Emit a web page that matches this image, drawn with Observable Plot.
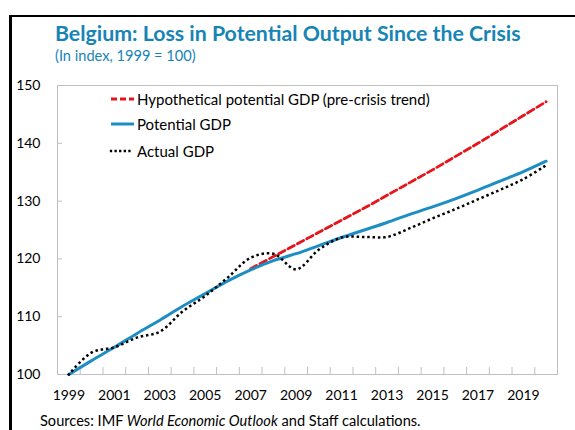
<!DOCTYPE html>
<html>
<head>
<meta charset="utf-8">
<script src="https://cdn.jsdelivr.net/npm/d3@7"></script>
<script src="https://cdn.jsdelivr.net/npm/@observablehq/plot@0.6"></script>
<style>
  html, body { margin: 0; padding: 0; background: #fff; }
  #wrap { position: relative; width: 575px; height: 430px; overflow: hidden; font-family: Lato, "Open Sans", sans-serif; }
  #borderTop { position: absolute; left: 9px; top: 15px; width: 570px; height: 2px; background: #000; }
  #borderLeft { position: absolute; left: 9px; top: 15px; width: 2.5px; height: 420px; background: #000; }
  #title { position: absolute; left: 55px; top: 21px; font-size: 21.3px; font-weight: 700; color: #1784b6; white-space: nowrap; line-height: 24px; }
  #subtitle { position: absolute; left: 55px; top: 47px; font-size: 14.6px; color: #1784b6; white-space: nowrap; line-height: 18px; }
  #chart { position: absolute; left: 0; top: 70px; }
  #legend { position: absolute; left: 109px; top: 89px; font-size: 15px; color: #000; }
  .row { position: absolute; left: 0; height: 20px; white-space: nowrap; display: flex; align-items: center; }
  .row svg { margin-right: 2px; }
  #caption { position: absolute; left: 40px; top: 413px; font-size: 14.6px; color: #000; white-space: nowrap; line-height: 16px; }
</style>
</head>
<body>
<div id="wrap">
  <div id="borderTop"></div>
  <div id="borderLeft"></div>
  <div id="title">Belgium: Loss in Potential Output Since the Crisis</div>
  <div id="subtitle">(In index, 1999 = 100)</div>
  <div id="chart"></div>
  <div id="legend"></div>
  <div id="caption">Sources: IMF <i>World Economic Outlook</i> and Staff calculations.</div>
</div>
<script>
// ---- data ----
const years = [1999, 2000, 2001, 2002, 2003, 2004, 2005, 2006, 2007, 2008, 2009, 2010,
               2011, 2012, 2013, 2014, 2015, 2016, 2017, 2018, 2019, 2020];
const potentialGDP = [100, 102.4, 104.7, 107.1, 109.4, 111.8, 114.0, 116.2, 118.1, 119.7, 120.9, 122.3,
                      123.7, 125.0, 126.3, 127.7, 129.0, 130.4, 131.9, 133.5, 135.1, 136.9];
const actualGDP = [100, 103.8, 104.7, 106.4, 107.4, 110.9, 113.6, 116.8, 120.2, 120.9, 118.2, 121.6,
                   123.7, 123.8, 123.8, 125.3, 127.0, 128.6, 130.3, 132.0, 133.8, 136.2];
const hypoYears = [2007, 2008, 2009, 2010, 2011, 2012, 2013, 2014, 2015, 2016, 2017, 2018, 2019, 2020];
const hypoGDP = [118.3, 120.4, 122.5, 124.6, 126.7, 128.8, 131.0, 133.2, 135.4, 137.7, 140.0, 142.4, 144.8, 147.2];
const xTickLabels = [1999, 2001, 2003, 2005, 2007, 2009, 2011, 2013, 2015, 2017, 2019];
const yTicks = [100, 110, 120, 130, 140, 150];
const seriesNames = ["Hypothetical potential GDP (pre-crisis trend)", "Potential GDP", "Actual GDP"];

// ---- styles ----
const RED = "#e8141c", BLUE = "#1c8ec3", GRID = "#c0c0c0";
const redDash = "7,3.6", dotDash = "0.01,5.3";

const potential = years.map((y, i) => ({year: y, value: potentialGDP[i]}));
const actual = years.map((y, i) => ({year: y, value: actualGDP[i]}));
const hypo = hypoYears.map((y, i) => ({year: y, value: hypoGDP[i]}));
// category boundaries between years
const boundaries = years.slice(0, -1).map(y => y + 0.5);

const W = 575, H = 345, mL = 57, mR = 18, mT = 15, mB = 41;
const innerW = W - mL - mR, innerH = H - mT - mB;

const chart = Plot.plot({
  width: W, height: H,
  marginLeft: mL, marginRight: mR, marginTop: mT, marginBottom: mB,
  style: "font-family: Lato, sans-serif; font-size: 14px; color: #000; background: transparent; overflow: visible;",
  x: {domain: [years[0] - 0.5, years[years.length - 1] + 0.5], label: null},
  y: {domain: [yTicks[0], yTicks[yTicks.length - 1]], label: null},
  marks: [
    Plot.frame({stroke: GRID, strokeWidth: 1}),
    Plot.tickX(boundaries, {x: d => d, stroke: GRID, insetTop: innerH - 7}),
    Plot.tickY(yTicks, {y: d => d, stroke: GRID, insetRight: innerW - 5}),
    Plot.axisX({ticks: xTickLabels, tickSize: 0, tickPadding: 16, tickFormat: d => String(d), label: null, fill: "#000"}),
    Plot.axisY({ticks: yTicks, tickSize: 0, tickPadding: 17, label: null, fill: "#000"}),
    Plot.line(hypo, {x: "year", y: "value", stroke: RED, strokeWidth: 2.8, strokeDasharray: redDash, curve: "catmull-rom"}),
    Plot.line(potential, {x: "year", y: "value", stroke: BLUE, strokeWidth: 3, curve: "catmull-rom"}),
    Plot.line(actual, {x: "year", y: "value", stroke: "#000", strokeWidth: 2.5, strokeLinecap: "square", strokeDasharray: dotDash, curve: "catmull-rom"})
  ]
});
document.getElementById("chart").appendChild(chart);

// ---- legend ----
const legendDefs = [
  {name: seriesNames[0], stroke: RED, dash: "6,3", width: 2.8, cap: "butt"},
  {name: seriesNames[1], stroke: BLUE, dash: null, width: 3, cap: "butt"},
  {name: seriesNames[2], stroke: "#000", dash: "0.01,4.6", width: 2.3, cap: "square"}
];
const rowTops = [0, 25.3, 51.7];
const legend = document.getElementById("legend");
legendDefs.forEach((d, i) => {
  const row = document.createElement("div");
  row.className = "row";
  row.style.top = rowTops[i] + "px";
  const svg = d3.create("svg").attr("width", 26).attr("height", 6);
  svg.append("line").attr("x1", 2).attr("x2", 25).attr("y1", 3).attr("y2", 3)
    .attr("stroke", d.stroke).attr("stroke-width", d.width)
    .attr("stroke-linecap", d.cap)
    .attr("stroke-dasharray", d.dash);
  row.appendChild(svg.node());
  const span = document.createElement("span");
  span.textContent = d.name;
  row.appendChild(span);
  legend.appendChild(row);
});
</script>
</body>
</html>
